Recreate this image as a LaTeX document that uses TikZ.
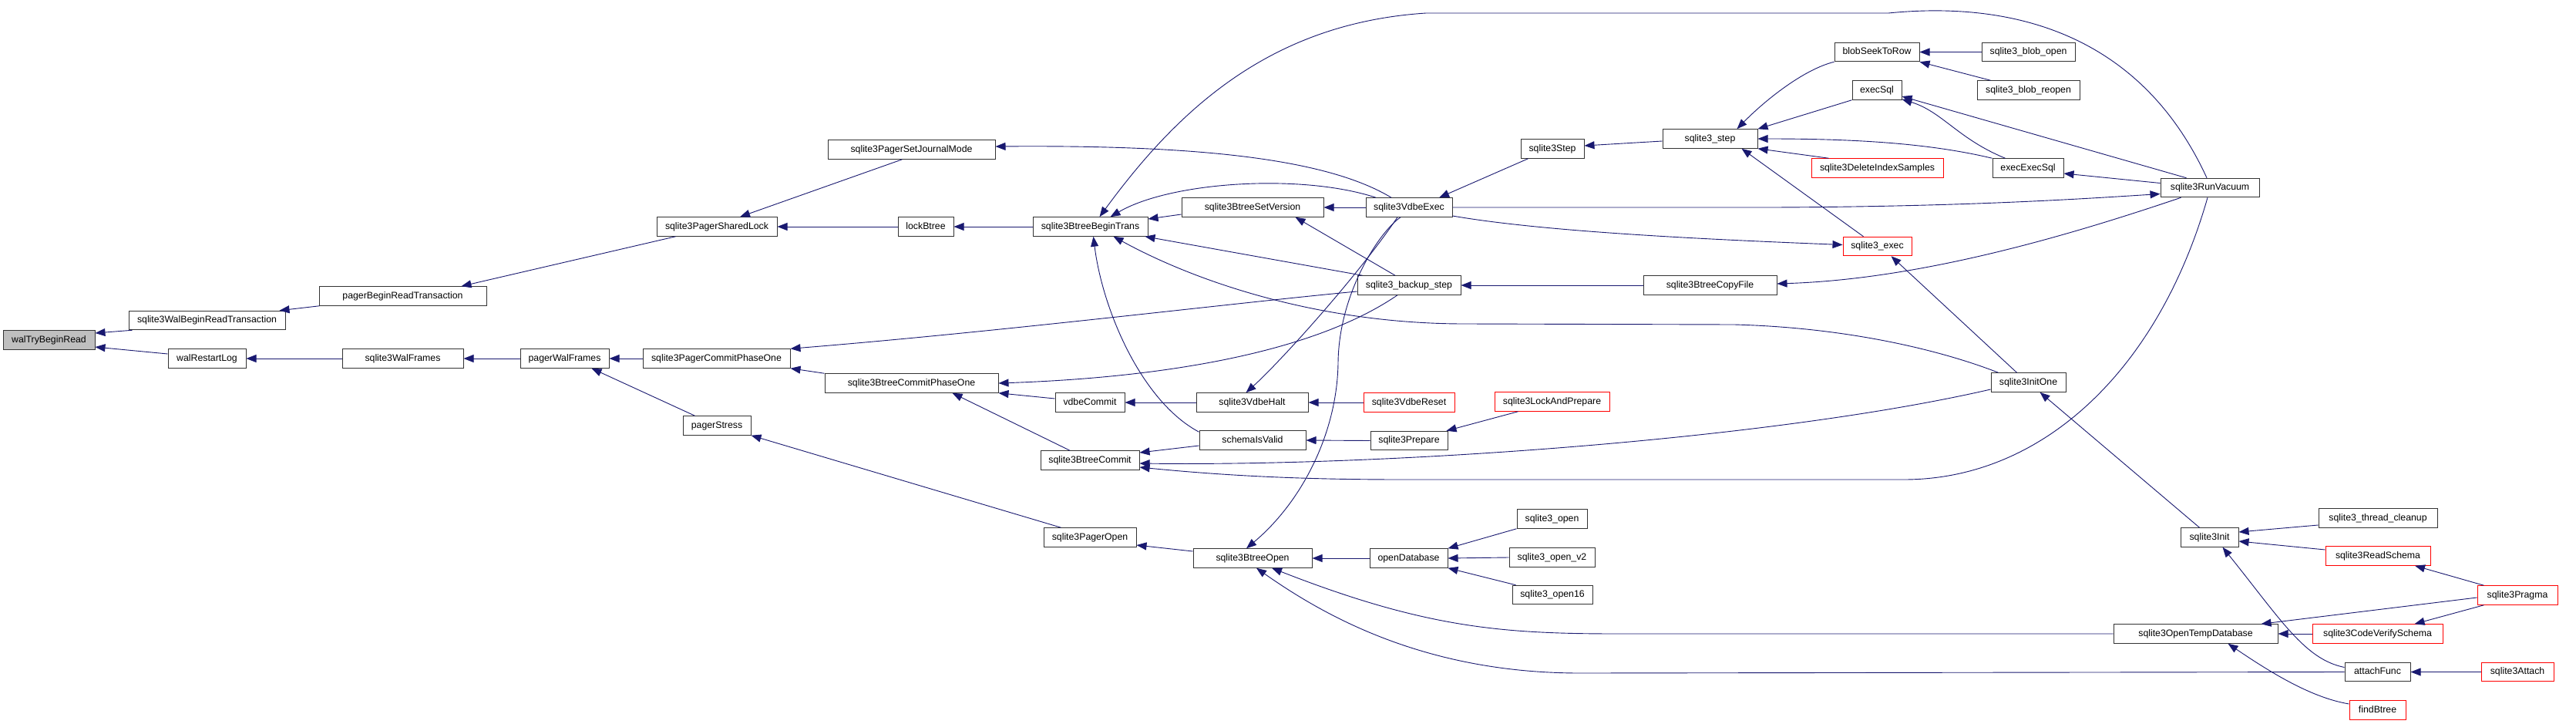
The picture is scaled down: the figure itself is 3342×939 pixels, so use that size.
\documentclass[tikz,border=0pt]{standalone}
\usepackage{fontspec}
\setmainfont{Liberation Sans}
\usetikzlibrary{arrows.meta}
\definecolor{edgec}{HTML}{191970}
\definecolor{grayf}{HTML}{BFBFBF}
\definecolor{redb}{HTML}{FF0000}
\definecolor{bordc}{HTML}{333333}
\begin{document}
\begin{tikzpicture}[x=1pt,y=-1pt,
  nd/.style={draw=bordc, fill=white, line width=1pt, inner sep=0pt, minimum height=24.5pt,
    font=\fontsize{12.3pt}{14pt}\selectfont, text height=9pt, text depth=2.6pt, anchor=center},
  rd/.style={nd, draw=redb},
  cg/.style={draw=edgec, line width=0.9pt, {Triangle[length=13pt,width=10pt]}-}]
\fill[white] (0,0) rectangle (3342,939);
\useasboundingbox (0,0) rectangle (3342,939);
% nodes
\node[nd,fill=grayf,minimum width=119pt] (wtbr) at (63.5,441) {walTryBeginRead};
\node[nd,minimum width=203pt] (wbrt) at (268.5,415.5) {sqlite3WalBeginReadTransaction};
\node[nd,minimum width=101pt] (wrl) at (268.5,465) {walRestartLog};
\node[nd,minimum width=217pt] (pbrt) at (522.5,384) {pagerBeginReadTransaction};
\node[nd,minimum width=157pt] (swf) at (522.5,465) {sqlite3WalFrames};
\node[nd,minimum width=156pt] (psl) at (930,294) {sqlite3PagerSharedLock};
\node[nd,minimum width=115pt] (pwf) at (732.5,465) {pagerWalFrames};
\node[nd,minimum width=191pt] (pcpo) at (929.5,465) {sqlite3PagerCommitPhaseOne};
\node[nd,minimum width=217pt] (psjm) at (1182.5,194) {sqlite3PagerSetJournalMode};
\node[nd,minimum width=72pt] (lb) at (1201,294) {lockBtree};
\node[nd,minimum width=149pt] (bbt) at (1414.5,294) {sqlite3BtreeBeginTrans};
\node[nd,minimum width=184pt] (bsv) at (1625,269) {sqlite3BtreeSetVersion};
\node[nd,minimum width=225pt] (bcpo) at (1182.5,497) {sqlite3BtreeCommitPhaseOne};
\node[nd,minimum width=90pt] (vc) at (1414,522) {vdbeCommit};
\node[nd,minimum width=128pt] (bc) at (1414,597) {sqlite3BtreeCommit};
\node[nd,minimum width=120pt] (po) at (1414,697) {sqlite3PagerOpen};
\node[nd,minimum width=154pt] (bo) at (1625,724) {sqlite3BtreeOpen};
\node[nd,minimum width=145pt] (vh) at (1624.5,522) {sqlite3VdbeHalt};
\node[nd,minimum width=138pt] (siv) at (1625,571) {schemaIsValid};
\node[nd,minimum width=88pt] (ps) at (930,552) {pagerStress};
\node[nd,minimum width=112pt] (ve) at (1828,269) {sqlite3VdbeExec};
\node[nd,minimum width=82pt] (st) at (2014,193) {sqlite3Step};
\node[nd,minimum width=134pt] (bks) at (1828,370) {sqlite3\_backup\_step};
\node[nd,minimum width=123pt] (s3s) at (2218.5,180) {sqlite3\_step};
\node[nd,minimum width=173pt] (bcf) at (2218.5,370) {sqlite3BtreeCopyFile};
\node[rd,minimum width=118pt] (vr) at (1828,522) {sqlite3VdbeReset};
\node[rd,minimum width=149pt] (lap) at (2013.5,521) {sqlite3LockAndPrepare};
\node[nd,minimum width=100pt] (pr) at (1828,571.5) {sqlite3Prepare};
\node[nd,minimum width=101pt] (od) at (1827.5,724) {openDatabase};
\node[nd,minimum width=91pt] (o1) at (2013.5,673) {sqlite3\_open};
\node[nd,minimum width=111pt] (o2) at (2013.5,723) {sqlite3\_open\_v2};
\node[nd,minimum width=104pt] (o16) at (2014,771.5) {sqlite3\_open16};
\node[nd,minimum width=110pt] (bstr) at (2435,67.5) {blobSeekToRow};
\node[nd,minimum width=121pt] (bo1) at (2631.5,67.5) {sqlite3\_blob\_open};
\node[nd,minimum width=133pt] (bro) at (2631.5,117) {sqlite3\_blob\_reopen};
\node[nd,minimum width=64pt] (es) at (2435,117) {execSql};
\node[rd,minimum width=171pt] (dis) at (2435.5,218) {sqlite3DeleteIndexSamples};
\node[nd,minimum width=92pt] (ees) at (2631,218) {execExecSql};
\node[rd,minimum width=89pt] (sx) at (2435.5,319.5) {sqlite3\_exec};
\node[nd,minimum width=128pt] (rv) at (2867,243.5) {sqlite3RunVacuum};
\node[nd,minimum width=97pt] (io) at (2631.5,496) {sqlite3InitOne};
\node[nd,minimum width=75pt] (si) at (2866.5,697) {sqlite3Init};
\node[nd,minimum width=154pt] (tc) at (3085,672) {sqlite3\_thread\_cleanup};
\node[rd,minimum width=136pt] (rs) at (3085,721) {sqlite3ReadSchema};
\node[rd,minimum width=104pt] (pg) at (3266,772) {sqlite3Pragma};
\node[nd,minimum width=213pt] (otd) at (2848.5,822) {sqlite3OpenTempDatabase};
\node[rd,minimum width=169pt] (cvs) at (3084.5,822) {sqlite3CodeVerifySchema};
\node[nd,minimum width=85pt] (af) at (3084.5,871.5) {attachFunc};
\node[rd,minimum width=94pt] (sa) at (3266,871.5) {sqlite3Attach};
\node[rd,minimum width=73pt] (fb) at (3084.5,921) {findBtree};
% edges (arrow at callee)
\draw[cg] ([yshift=9pt]wtbr.east) -- ([xshift=5pt]wbrt.south west);
\draw[cg] ([yshift=-9pt]wtbr.east) -- ([yshift=6pt]wrl.west);
\draw[cg] ([xshift=-8pt]wbrt.north east) -- ([xshift=1pt]pbrt.south west);
\draw[cg] ([xshift=-33pt]pbrt.north east) -- ([xshift=25pt]psl.south west);
\draw[cg] ([xshift=30pt]psl.north) -- ([xshift=-12pt]psjm.south);
\draw[cg] (psl.east) -- (lb.west);
\draw[cg] (lb.east) -- (bbt.west);
\draw[cg] ([yshift=4pt]psjm.east) .. controls (1550,188) and (1720,205) .. ([xshift=-23pt]ve.north);
\draw[cg] (wrl.east) -- (swf.west);
\draw[cg] (swf.east) -- (pwf.west);
\draw[cg] (pwf.east) -- (pcpo.west);
\draw[cg] ([xshift=35pt]pwf.south) -- ([xshift=16pt]ps.north west);
\draw[cg] (pcpo.south east) -- (bcpo.north west);
\draw[cg] (pcpo.north east) .. controls (1300,430) and (1600,393) .. ([yshift=-8pt]bks.west);
\draw[cg] (ps.south east) -- ([xshift=23pt]po.north west);
\draw[cg] ([yshift=-10pt]po.east) -- ([yshift=9pt]bo.west);
\draw[cg] (bcpo.south east) -- ([yshift=5pt]vc.west);
\draw[cg] ([xshift=53pt]bcpo.south) -- ([xshift=-26pt]bc.north);
\draw[cg] (bcpo.east) .. controls (1500,490) and (1700,460) .. ([xshift=-15pt]bks.south);
\draw[cg] (vc.east) -- (vh.west);
\draw[cg] (vh.east) -- (vr.west);
\draw[cg] ([xshift=-8pt]vh.north) .. controls (1660,470) and (1760,360) .. ([xshift=-15pt]ve.south);
\draw[cg] ([xshift=-8pt]bo.north) .. controls (1690,650) and (1735,560) .. (1736,470) .. controls (1737,380) and (1790,300) .. ([xshift=-11pt]ve.south);
\draw[cg] (bsv.east) -- (ve.west);
\draw[cg] ([xshift=-37pt]bsv.south east) -- ([xshift=-18pt]bks.north);
\draw[cg] ([yshift=10pt]bbt.east) -- ([yshift=-9pt]bsv.west);
\draw[cg] ([xshift=12pt]bbt.north) .. controls (1530,140) and (1650,30) .. (1850,17) -- (2450,17) .. controls (2620,0) and (2780,50) .. ([xshift=-4pt]rv.north);
\draw[cg] ([xshift=26pt]bbt.north) .. controls (1520,235) and (1690,225) .. ([xshift=-43pt]ve.north);
\draw[cg] ([xshift=-4pt]bbt.south east) -- ([xshift=7pt]bks.north west);
\draw[cg] ([xshift=30pt]bbt.south) .. controls (1560,370) and (1720,420) .. (1900,420) -- (2250,421) .. controls (2400,425) and (2520,455) .. ([xshift=10pt]io.north west);
\draw[cg] ([xshift=4pt]bbt.south) .. controls (1430,400) and (1480,520) .. ([yshift=-2pt]siv.north west);
\draw[cg] ([xshift=39pt]ve.north) -- ([xshift=10pt]st.south west);
\draw[cg] ([yshift=4pt]st.east) -- ([yshift=-3pt]s3s.west);
\draw[cg] ([yshift=-8pt]rv.west) .. controls (2700,258) and (2550,268) .. (2300,269) -- (ve.east);
\draw[cg] ([yshift=2pt]sx.west) .. controls (2200,310) and (2000,300) .. ([yshift=-11pt]ve.east);
\draw[cg] ([xshift=-27pt]s3s.north east) .. controls (2290,130) and (2340,90) .. (bstr.south west);
\draw[cg] (s3s.north east) -- (es.south west);
\draw[cg] (s3s.east) .. controls (2400,180) and (2500,185) .. (ees.north west);
\draw[cg] (s3s.south east) -- ([xshift=23pt]dis.north west);
\draw[cg] ([xshift=41pt]s3s.south) -- ([xshift=27pt]sx.north west);
\draw[cg] (bstr.east) -- (bo1.west);
\draw[cg] (bstr.south east) -- ([xshift=18pt]bro.north west);
\draw[cg] ([yshift=1pt]es.south east) .. controls (2520,145) and (2540,180) .. ([xshift=17pt]ees.north west);
\draw[cg] ([yshift=-8pt]es.east) -- ([xshift=34pt]rv.north west);
\draw[cg] ([yshift=-7pt]ees.east) -- ([yshift=6pt]rv.west);
\draw[cg] ([yshift=2pt]bcf.east) .. controls (2500,362) and (2700,300) .. ([xshift=27pt]rv.south west);
\draw[cg] (bks.east) -- (bcf.west);
\draw[cg] ([xshift=18pt]sx.south) -- ([xshift=-15pt]io.north);
\draw[cg] ([xshift=15pt]io.south) -- ([xshift=-13pt]si.north);
\draw[cg] ([yshift=10pt]bc.east) -- ([yshift=-7pt]siv.west);
\draw[cg] ([yshift=-4pt]bc.east) .. controls (1800,605) and (2300,570) .. ([yshift=-9pt]io.west);
\draw[cg] ([yshift=-9pt]bc.east) .. controls (1600,618) and (1700,622) .. (1820,622) -- (2470,622) .. controls (2650,622) and (2800,480) .. ([xshift=-3pt]rv.south);
\draw[cg] (siv.east) -- (pr.west);
\draw[cg] ([xshift=-2pt]pr.north east) -- ([xshift=31pt]lap.south west);
\draw[cg] (bo.east) -- (od.west);
\draw[cg] (od.north east) -- (o1.south west);
\draw[cg] (od.east) -- (o2.west);
\draw[cg] (od.south east) -- ([xshift=5pt]o16.north west);
\draw[cg] ([yshift=7pt]si.east) -- ([yshift=-9pt]tc.west);
\draw[cg] ([yshift=-5pt]si.east) -- ([yshift=8pt]rs.west);
\draw[cg] ([xshift=48pt]rs.south) -- ([xshift=9pt]pg.north west);
\draw[cg] ([xshift=-22pt]otd.north east) -- ([yshift=-3pt]pg.west);
\draw[cg] ([xshift=48pt]cvs.north) -- ([xshift=9pt]pg.south west);
\draw[cg] (otd.east) -- (cvs.west);
\draw[cg] ([xshift=42pt]otd.south) .. controls (2950,875) and (3000,905) .. ([yshift=8pt]fb.west);
\draw[cg] ([xshift=17pt]si.south) .. controls (2960,805) and (2990,855) .. ([yshift=6pt]af.west);
\draw[cg] (af.east) -- (sa.west);
\draw[cg] ([xshift=25pt]bo.south) .. controls (1850,815) and (1950,822) .. (2100,822) -- (otd.west);
\draw[cg] ([xshift=5pt]bo.south) .. controls (1720,800) and (1850,873) .. (2050,873) -- (af.west);
\end{tikzpicture}
\end{document}
